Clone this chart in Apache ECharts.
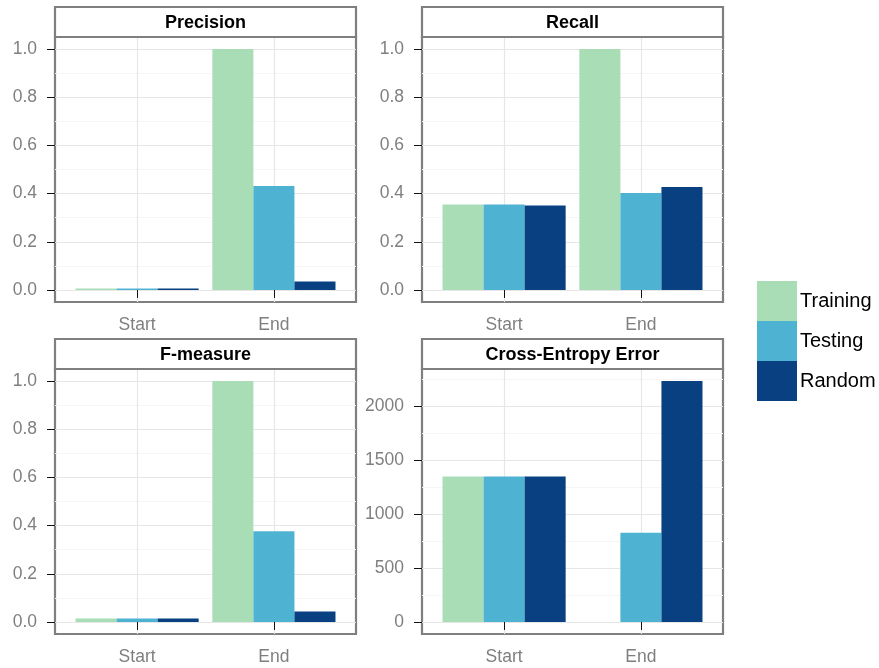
<!DOCTYPE html>
<html>
<head>
<meta charset="utf-8">
<script src="https://cdn.jsdelivr.net/npm/echarts@6/dist/echarts.min.js"></script>
<style>
  html, body { margin: 0; padding: 0; background: #fff; }
  #chart { width: 879px; height: 668px; }
</style>
</head>
<body>
<div id="chart"></div>
<script>
const categories = ['Start', 'End'];
const groups = ['Training', 'Testing', 'Random'];
const panels = ['Precision', 'Recall', 'F-measure', 'Cross-Entropy Error'];
// rows follow groups, columns follow categories
const precision = [[0.006, 1.0], [0.006, 0.431], [0.006, 0.035]];
const recall = [[0.355, 1.0], [0.355, 0.402], [0.351, 0.427]];
const fMeasure = [[0.014, 1.0], [0.014, 0.376], [0.014, 0.043]];
const crossEntropy = [[1347, 0], [1347, 826], [1347, 2230]];
const rateTicks = [0, 0.2, 0.4, 0.6, 0.8, 1.0];
const rateMinor = [0.1, 0.3, 0.5, 0.7, 0.9];
const errorTicks = [0, 500, 1000, 1500, 2000];
const errorMinor = [250, 750, 1250, 1750, 2250];

const colors = ['#a8ddb5', '#4eb3d3', '#084081'];
const panelData = [precision, recall, fMeasure, crossEntropy];
const frames = [
  { left: 55, top: 37 }, { left: 422, top: 37 },
  { left: 55, top: 369 }, { left: 422, top: 369 },
];
const panelW = 301, panelH = 265, stripH = 30;
const font = 'Liberation Sans';
const gray = '#7f7f7f';

// ggplot-like discrete expansion: categories sit at 1 and 2 on [0.4, 2.6]
const barWidth = panelW / 2.2 * 0.9 / groups.length;

const grid = [], xAxis = [], yAxis = [], series = [], graphic = [];

panels.forEach((name, p) => {
  const f = frames[p];
  const data = panelData[p];
  const isRate = p < 3;
  const ticks = isRate ? rateTicks : errorTicks;
  const minor = isRate ? rateMinor : errorMinor;
  const top = isRate ? 1 : Math.max(...data.flat());
  const pad = top * 0.05;

  grid.push({
    left: f.left, top: f.top, width: panelW, height: panelH,
    show: true, borderColor: gray, borderWidth: 2.2, backgroundColor: '#fff',
  });

  xAxis.push({
    type: 'value', gridIndex: p, min: 0.4, max: 2.6,
    axisLine: { show: false },
    axisTick: { show: true, customValues: [1, 2], length: 8, lineStyle: { color: '#111' } },
    axisLabel: {
      customValues: [1, 2], margin: 14, color: gray, fontSize: 17.5, fontFamily: font,
      formatter: v => categories[Math.round(v) - 1],
    },
    splitLine: { show: true, lineStyle: { color: '#e6e6e6', width: 1.2 } },
  });

  yAxis.push({
    type: 'value', gridIndex: p, min: -pad, max: top + pad,
    axisLine: { show: false },
    axisTick: { show: true, customValues: ticks, length: 8, lineStyle: { color: '#111' } },
    axisLabel: {
      customValues: ticks, margin: 18, color: gray, fontSize: 17.5, fontFamily: font,
      formatter: v => isRate ? v.toFixed(1) : String(v),
    },
    splitLine: { show: true, lineStyle: { color: '#e6e6e6', width: 1.2 } },
  });
  yAxis.push({
    type: 'value', gridIndex: p, min: -pad, max: top + pad,
    axisLine: { show: false },
    axisTick: { show: false, customValues: minor },
    axisLabel: { show: false, customValues: minor },
    splitLine: { show: true, lineStyle: { color: '#f5f5f5', width: 1.2 } },
  });

  groups.forEach((g, k) => {
    series.push({
      name: g, type: 'bar', xAxisIndex: p, yAxisIndex: p * 2,
      barWidth: barWidth, barGap: '0%',
      itemStyle: { color: colors[k] },
      data: categories.map((c, i) => [i + 1, data[k][i]]),
      silent: true,
    });
  });

  graphic.push({
    type: 'rect', z: 10,
    shape: { x: f.left, y: f.top - stripH, width: panelW, height: stripH },
    style: { fill: '#fff', stroke: gray, lineWidth: 2.2 },
  });
  graphic.push({
    type: 'text', z: 11,
    x: f.left + panelW / 2, y: f.top - stripH / 2 + 1,
    style: {
      text: name, fill: '#000', align: 'center', verticalAlign: 'middle',
      font: 'bold 18px "Liberation Sans"',
    },
  });
});

const chart = echarts.init(document.getElementById('chart'), null, { renderer: 'canvas' });
chart.setOption({
  animation: false,
  color: colors,
  grid, xAxis, yAxis, series, graphic,
  legend: {
    data: groups, orient: 'vertical', left: 752, top: 276,
    icon: 'rect', itemWidth: 40, itemHeight: 40, itemGap: 0,
    padding: 5,
    textStyle: { fontSize: 20, color: '#000', fontFamily: font, padding: [0, 0, 0, -2] },
    itemStyle: { borderWidth: 0 },
  },
});
</script>
</body>
</html>
